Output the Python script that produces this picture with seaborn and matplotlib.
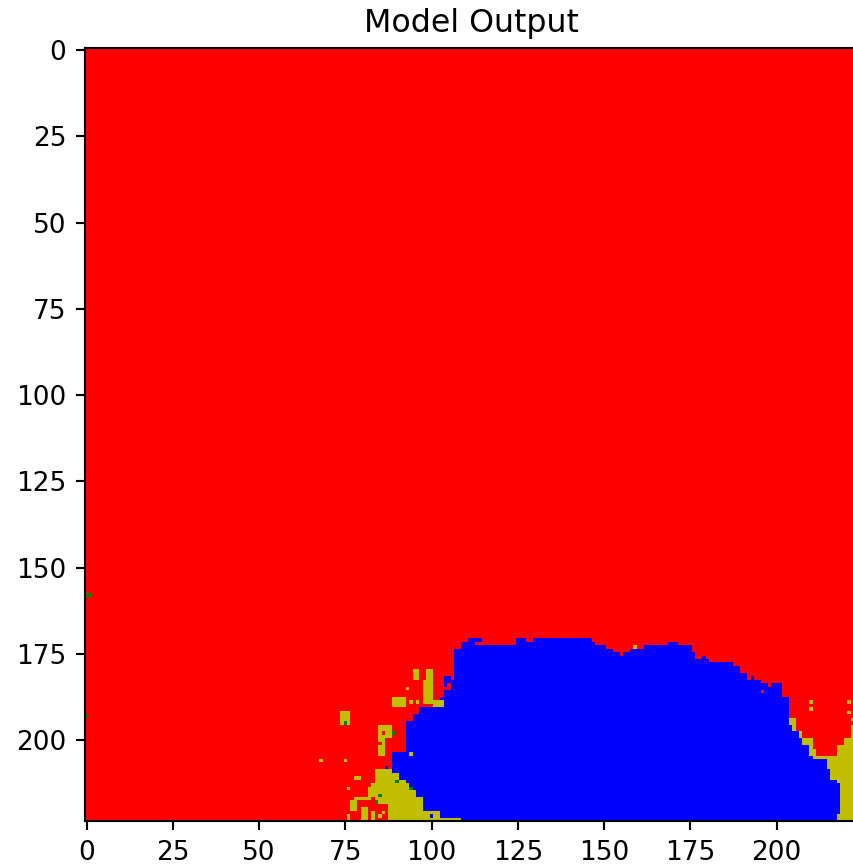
import numpy as np
import matplotlib
matplotlib.use("Agg")
import matplotlib.pyplot as plt
from matplotlib.colors import ListedColormap
import seaborn as sns

# segmentation classes: 0 red, 1 green, 2 blue, 3 yellow
N = 224
class_colors = ['r', 'g', 'b', 'y']
tick_values = [0, 25, 50, 75, 100, 125, 150, 175, 200]

# (first col, top row of blue)
blue_top = [(0, 224), (88, 204), (93, 195), (95, 193), (97, 191), (103, 182), (107, 174),
            (109, 172), (111, 171), (115, 173), (125, 171), (128, 172), (130, 171),
            (147, 172), (148, 173), (151, 174), (153, 175), (155, 176), (156, 175),
            (158, 174), (162, 173), (169, 172), (172, 173), (176, 175), (177, 177),
            (179, 176), (180, 177), (181, 178), (188, 179), (190, 181), (192, 183),
            (193, 182), (194, 183), (196, 184), (198, 185), (199, 184), (202, 188),
            (204, 196)]
# (first row, leftmost blue col)
blue_left = [(0, 107), (182, 104), (188, 103), (191, 97), (193, 95), (195, 93), (197, 91),
             (199, 93), (204, 89), (210, 91), (212, 93), (213, 94), (215, 96), (217, 98),
             (221, 103), (223, 109)]
# (first row, rightmost blue col)
blue_right = [(0, 203), (196, 204), (198, 206), (200, 207), (202, 209), (205, 210),
              (206, 214), (209, 215), (212, 217), (213, 218), (222, 217)]
# (first col, top row of the yellow patch at bottom right)
yellow_right_top = [(0, 224), (204, 194), (206, 198), (208, 200), (211, 203), (212, 205),
                    (218, 202), (220, 200), (222, 196)]
# (first row, left col of yellow wedge at bottom left)
wedge_left = [(0, 224), (209, 84), (213, 83), (215, 82), (217, 84), (219, 88)]

# (row0, row1, col0, col1)
yellow_blocks = [(180, 183, 95, 97), (180, 183, 99, 101), (183, 190, 98, 101),
                 (189, 191, 101, 104), (188, 191, 89, 93), (192, 196, 74, 77),
                 (196, 200, 85, 89), (200, 205, 85, 87), (211, 212, 78, 80),
                 (217, 218, 78, 83), (218, 221, 77, 79), (220, 224, 80, 82),
                 (221, 224, 83, 84), (222, 224, 76, 77)]
yellow_px = [(185, 93), (189, 94), (189, 96), (206, 68), (206, 75), (204, 94), (214, 76),
             (214, 82), (173, 159), (189, 210), (191, 210), (189, 221), (192, 221),
             (194, 222), (222, 85), (221, 86)]
green_px = [(158, 0), (158, 1), (193, 0), (195, 75), (198, 89), (212, 90), (214, 94),
            (216, 85), (218, 84)]
red_px = [(172, 113), (172, 114), (186, 196), (184, 105), (185, 104), (185, 105),
          (186, 103), (182, 106), (198, 86), (201, 85)]
blue_px = [(222, 100), (208, 87)]


def expand(pairs):
    out = np.zeros(N, dtype=int)
    for i, (start, val) in enumerate(pairs):
        end = pairs[i + 1][0] if i + 1 < len(pairs) else N
        out[start:end] = val
    return out


top = expand(blue_top)
left = expand(blue_left)
right = expand(blue_right)
ytop = expand(yellow_right_top)
wleft = expand(wedge_left)

rows, cols = np.mgrid[0:N, 0:N]
mask = np.zeros((N, N), dtype=int)
mask[(rows >= top[cols]) & (cols >= left[rows]) & (cols <= right[rows])] = 2
mask[(rows >= ytop[cols]) & (cols > right[rows])] = 3
mask[(cols >= wleft[rows]) & (cols < left[rows])] = 3
for r0, r1, c0, c1 in yellow_blocks:
    mask[r0:r1, c0:c1] = 3
for val, pts in [(3, yellow_px), (1, green_px), (0, red_px), (2, blue_px)]:
    for r, c in pts:
        mask[r, c] = val

fig = plt.figure(figsize=(853 / 190, 868 / 190), dpi=190)
ax = fig.add_axes([84.8 / 853, 46.9 / 868, 772.8 / 853, 772.8 / 868])
sns.heatmap(mask, ax=ax, cmap=ListedColormap(class_colors), vmin=-0.5, vmax=3.5,
            cbar=False, square=True, xticklabels=False, yticklabels=False)

ax.set_xticks(np.array(tick_values) + 0.5)
ax.set_xticklabels(tick_values, rotation=0)
ax.set_yticks(np.array(tick_values) + 0.5)
ax.set_yticklabels(tick_values, rotation=0)
for s in ax.spines.values():
    s.set_visible(True)
    s.set_linewidth(0.8)
    s.set_color('black')
ax.tick_params(length=3.5, width=0.8, labelsize=10, left=True, bottom=True)
ax.set_title('Model Output', fontsize=12)

fig.savefig('out.png', dpi=190)
